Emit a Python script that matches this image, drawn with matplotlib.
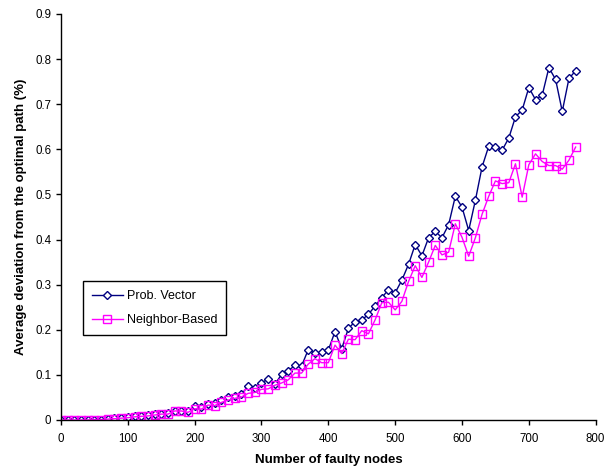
import matplotlib
matplotlib.use("Agg")
import matplotlib.pyplot as plt
import numpy as np

# number of faulty nodes (x axis)
faulty_nodes = list(range(0, 780, 10))

# average deviation, Prob. Vector
prob_vector = [0, 0, 0, 0, 0.001, 0.001, 0.001, 0.002, 0.004, 0.005,
               0.006, 0.008, 0.009, 0.010, 0.013, 0.013, 0.016, 0.021, 0.021, 0.020,
               0.030, 0.028, 0.035, 0.037, 0.044, 0.050, 0.054, 0.057, 0.075, 0.072,
               0.083, 0.090, 0.079, 0.101, 0.109, 0.121, 0.120, 0.156, 0.148, 0.150,
               0.155, 0.196, 0.158, 0.203, 0.218, 0.222, 0.234, 0.253, 0.271, 0.289,
               0.282, 0.310, 0.345, 0.389, 0.364, 0.404, 0.418, 0.404, 0.433, 0.496,
               0.472, 0.420, 0.487, 0.561, 0.607, 0.605, 0.598, 0.625, 0.672, 0.687,
               0.737, 0.710, 0.720, 0.781, 0.755, 0.684, 0.757, 0.774]

# average deviation, Neighbor-Based
neighbor_based = [0, 0, 0, 0, 0, 0.001, 0.001, 0.002, 0.003, 0.004,
                  0.005, 0.007, 0.008, 0.009, 0.011, 0.013, 0.013, 0.020, 0.020, 0.017,
                  0.025, 0.024, 0.033, 0.032, 0.039, 0.044, 0.048, 0.051, 0.059, 0.061,
                  0.068, 0.069, 0.077, 0.082, 0.089, 0.104, 0.104, 0.124, 0.136, 0.127,
                  0.127, 0.166, 0.147, 0.179, 0.178, 0.198, 0.191, 0.222, 0.260, 0.261,
                  0.244, 0.263, 0.307, 0.342, 0.316, 0.350, 0.387, 0.366, 0.372, 0.435,
                  0.405, 0.363, 0.404, 0.456, 0.496, 0.530, 0.524, 0.526, 0.568, 0.494,
                  0.566, 0.590, 0.573, 0.564, 0.564, 0.556, 0.576, 0.605]

x_ticks = list(range(0, 900, 100))
y_ticks = [0, 0.1, 0.2, 0.3, 0.4, 0.5, 0.6, 0.7, 0.8, 0.9]
y_tick_labels = ["0", "0.1", "0.2", "0.3", "0.4", "0.5", "0.6", "0.7", "0.8", "0.9"]

plt.rcParams['font.family'] = ['Liberation Sans', 'DejaVu Sans']

fig = plt.figure(figsize=(6.05, 4.71), dpi=100)
ax = fig.add_axes([0.1008, 0.1083, 0.8838, 0.862])

ax.plot(faulty_nodes, prob_vector, color='#000080', linewidth=1,
        marker='D', markersize=4.5, markerfacecolor='white',
        markeredgecolor='#000080', markeredgewidth=1, label='Prob. Vector')
ax.plot(faulty_nodes, neighbor_based, color='#FF00FF', linewidth=1,
        marker='s', markersize=5.5, markerfacecolor='none',
        markeredgecolor='#FF00FF', markeredgewidth=1, label='Neighbor-Based')

ax.set_xlim(0, 800)
ax.set_ylim(0, 0.9)
ax.set_xticks(x_ticks)
ax.set_yticks(y_ticks)
ax.set_yticklabels(y_tick_labels)
ax.tick_params(direction='out', length=3.5, width=1, labelsize=8.3, colors='black')
ax.tick_params(axis='x', pad=6)

ax.spines['top'].set_visible(False)
ax.spines['right'].set_visible(False)
ax.spines['left'].set_linewidth(1)
ax.spines['bottom'].set_linewidth(1)

ax.set_xlabel('Number of faulty nodes', fontsize=9.5, fontweight='bold', labelpad=6)
ax.set_ylabel('Average deviation from the optimal path (%)', fontsize=9.5,
              fontweight='bold', labelpad=6)

leg = ax.legend(loc='lower left', bbox_to_anchor=(0.041, 0.209), fontsize=9,
                fancybox=False, edgecolor='black', framealpha=1, borderaxespad=0,
                handlelength=2.5, borderpad=0.7, labelspacing=1.0, handletextpad=0.3)
leg.get_frame().set_linewidth(1)

fig.savefig('out.png', dpi=100)
